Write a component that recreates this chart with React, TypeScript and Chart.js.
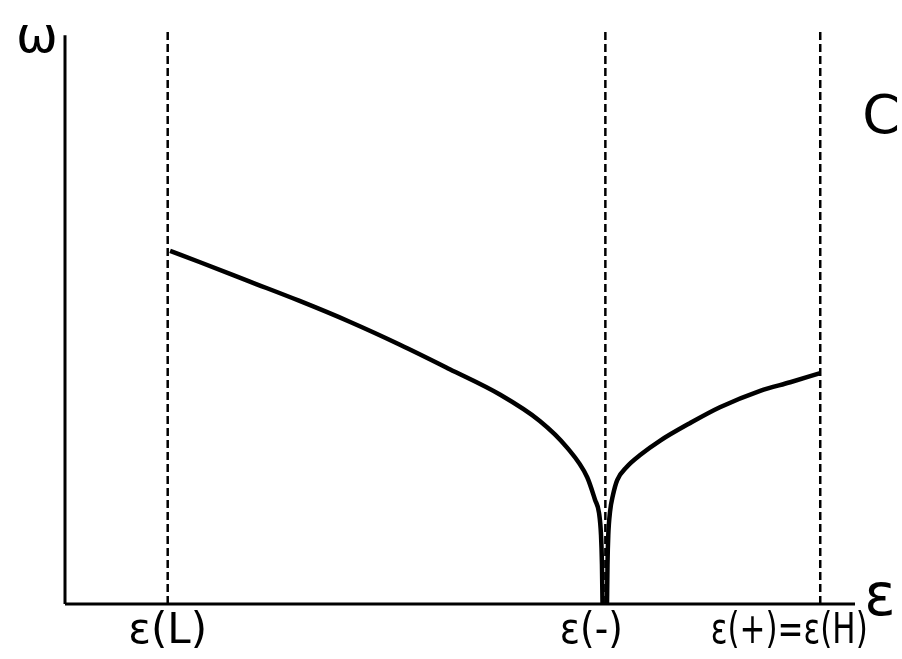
import React, { useEffect, useRef } from "react";
import { Chart, registerables } from "chart.js";

Chart.register(...registerables);

// Energy axis (ε) and frequency axis (ω), arbitrary units
const X_MAX = 10;
const Y_MAX = 10.2;
const AXIS_Y_TOP = 10;
const GUIDE_TOP = 10.1;

// Characteristic energies marked by dashed guides
const markerValues = [1.3, 6.84, 9.56];
const markerLabels = ["ε(L)", "ε(-)", "ε(+)=ε(H)"];
const markerLabelOffsets = [0, -14, -31];
const markerLabelWidths = [81, 63, 157];

// ω(ε) below the cusp at ε(-)
const leftEps = [1.33, 1.71, 2.34, 2.97, 3.61, 4.24, 4.87, 5.51, 6.01, 6.35, 6.61, 6.71, 6.76, 6.785, 6.797, 6.804];
const leftOmega = [6.21, 6.01, 5.67, 5.33, 4.96, 4.56, 4.13, 3.68, 3.22, 2.76, 2.23, 1.83, 1.6, 1.21, 0.69, 0];

// ω(ε) above the cusp, up to ε(H)
const rightEps = [6.861, 6.867, 6.877, 6.899, 6.937, 6.99, 7.11, 7.28, 7.53, 7.91, 8.29, 8.8, 9.18, 9.56];
const rightOmega = [0, 0.69, 1.21, 1.62, 1.92, 2.18, 2.41, 2.62, 2.87, 3.18, 3.46, 3.75, 3.9, 4.06];

const yAxisLabel = "ω";
const xAxisLabel = "ε";
const panelLabel = "C";

const toPoints = (xs: number[], ys: number[]) => xs.map((x, i) => ({ x, y: ys[i] }));

const labelPlugin = {
  id: "figureLabels",
  afterDraw(chart: any) {
    const { ctx } = chart;
    const xs = chart.scales.x;
    ctx.save();
    ctx.fillStyle = "#000";
    ctx.textBaseline = "alphabetic";
    ctx.textAlign = "center";

    ctx.font = "50px 'DejaVu Sans'";
    ctx.fillText(yAxisLabel, 37, 52);

    ctx.font = "54px 'DejaVu Sans'";
    ctx.fillText(panelLabel, 881, 133);

    ctx.font = "58px 'DejaVu Sans'";
    ctx.fillText(xAxisLabel, 880, 615);

    ctx.font = "42px 'DejaVu Sans'";
    markerValues.forEach((v, i) => {
      const px = xs.getPixelForValue(v) + markerLabelOffsets[i];
      ctx.fillText(markerLabels[i], px, 643, markerLabelWidths[i]);
    });
    ctx.restore();
  },
};

export default function App() {
  const canvasRef = useRef<HTMLCanvasElement | null>(null);

  useEffect(() => {
    const canvas = canvasRef.current;
    if (!canvas) return;

    const line = (data: any[], width: number, dash: number[] = []) => ({
      data,
      showLine: true,
      borderColor: "#000",
      borderWidth: width,
      borderDash: dash,
      pointRadius: 0,
      fill: false,
      clip: false as any,
    });

    const guides = markerValues.map((m) =>
      line([{ x: m, y: 0 }, { x: m, y: GUIDE_TOP }], 2.5, [8, 4])
    );

    const chart = new Chart(canvas, {
      type: "scatter",
      data: {
        datasets: [
          ...guides,
          line([{ x: 0, y: 0 }, { x: 0, y: AXIS_Y_TOP }], 3),
          line([{ x: 0, y: 0 }, { x: X_MAX, y: 0 }], 3),
          { ...line(toPoints(leftEps, leftOmega), 4.5), cubicInterpolationMode: "monotone" },
          { ...line(toPoints(rightEps, rightOmega), 4.5), cubicInterpolationMode: "monotone" },
        ] as any,
      },
      options: {
        responsive: false,
        animation: false,
        events: [],
        layout: { padding: { left: 65, right: 47, top: 24, bottom: 55 } },
        scales: {
          x: { type: "linear", min: 0, max: X_MAX, display: false },
          y: { type: "linear", min: 0, max: Y_MAX, display: false },
        },
        plugins: {
          legend: { display: false },
          tooltip: { enabled: false },
        },
      },
      plugins: [labelPlugin],
    });

    return () => chart.destroy();
  }, []);

  return (
    <div style={{ position: "fixed", left: 0, top: 0, width: 902, height: 659, background: "#fff" }}>
      <canvas ref={canvasRef} width={902} height={659} />
    </div>
  );
}
